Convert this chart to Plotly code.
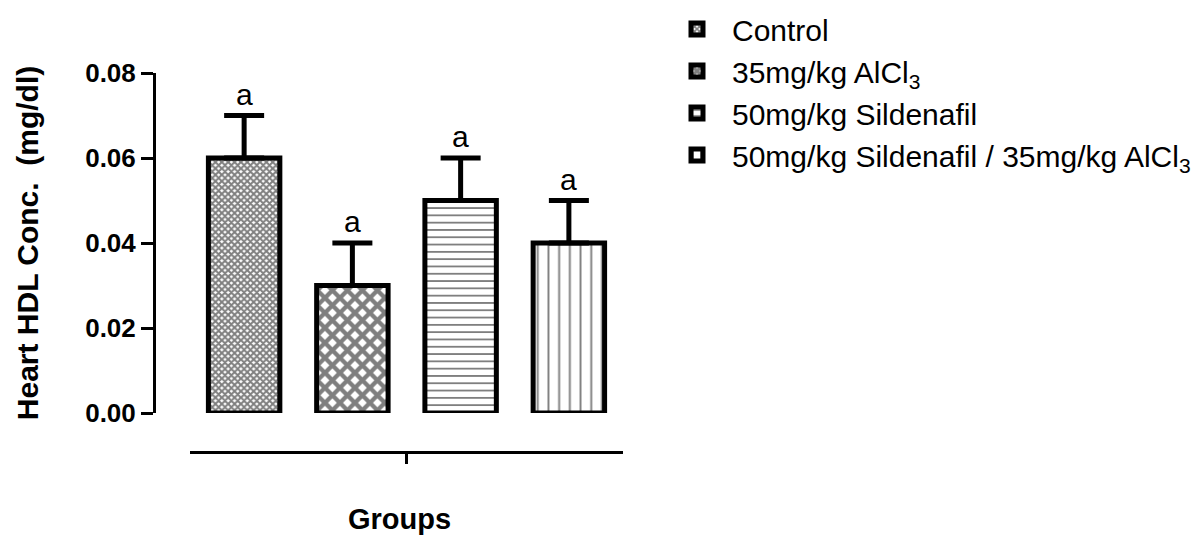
import plotly.graph_objects as go

groups = ["Control", "35mg/kg AlCl<sub>3</sub>", "50mg/kg Sildenafil",
          "50mg/kg Sildenafil / 35mg/kg AlCl<sub>3</sub>"]
means = [0.06, 0.03, 0.05, 0.04]
errors = [0.01, 0.01, 0.01, 0.01]
letters = ["a", "a", "a", "a"]
category = ["Groups"]
x_title = "Groups"
y_title = "Heart HDL Conc.  (mg/dl)"

patterns = [
    dict(shape="x", size=4.5, solidity=0.7),
    dict(shape="x", size=10.6, solidity=0.65),
    dict(shape="-", size=7.3, solidity=0.25),
    dict(shape="|", size=10.7, solidity=0.18),
]

FONT = "Liberation Sans, Arial, sans-serif"
# the page body adds an 8px margin, so the figure is sized to fill the rest
W, H = 1196, 531
ml, mr, mt, mb = 146, 581, 65, 87
PW, PH = W - ml - mr, H - mt - mb

fig = go.Figure()
for name, m, e, p in zip(groups, means, errors, patterns):
    fig.add_trace(go.Bar(
        x=category, y=[m], name=name,
        marker=dict(color="white", line=dict(color="black", width=5),
                    pattern=dict(fgcolor="black", bgcolor="white", **p)),
        error_y=dict(type="data", array=[e], arrayminus=[0], symmetric=False,
                     thickness=5, width=20, color="black"),
    ))

n = len(groups)
for i, (m, e, t) in enumerate(zip(means, errors, letters)):
    fig.add_annotation(x=-0.5 + (i + 0.5) / n, y=m + e, xref="x", yref="y",
                       text=t, showarrow=False, yanchor="bottom", yshift=3,
                       font=dict(family=FONT, size=30, color="black"))

# x-axis title (slightly left of the axis centre, as in the original)
fig.add_annotation(x=(391 - ml) / PW, y=(444 - 511) / PH, xref="paper", yref="paper",
                   text=x_title, showarrow=False, xanchor="center", yanchor="middle",
                   font=dict(family=FONT, size=29, weight="bold", color="black"))

fig.update_layout(
    width=W, height=H,
    margin=dict(l=ml, r=mr, t=mt, b=mb, pad=0, autoexpand=False),
    paper_bgcolor="white", plot_bgcolor="white",
    barmode="group", bargap=0, bargroupgap=0.34,
    font=dict(family=FONT, color="black"),
    xaxis=dict(domain=[(182 - ml) / PW, 1], anchor="free", position=0,
               range=[-0.5, 0.5], showline=True, linecolor="black", linewidth=3,
               ticks="outside", ticklen=10, tickwidth=3, tickcolor="black",
               showticklabels=False, showgrid=False, zeroline=False,
               automargin=False),
    yaxis=dict(domain=[(444 - 405) / PH, 1], anchor="free", position=0,
               range=[0, 0.08], dtick=0.02, tickformat=".2f",
               showline=True, linecolor="black", linewidth=3,
               ticks="outside", ticklen=12, tickwidth=3, tickcolor="black",
               tickfont=dict(family=FONT, size=26, weight="bold"),
               showgrid=False, zeroline=False, automargin=False,
               title=dict(text=y_title, standoff=36,
                          font=dict(family=FONT, size=30, weight="bold"))),
    legend=dict(x=(654 - ml) / PW, y=(444 + 5) / PH,
                xanchor="left", yanchor="top", itemwidth=60,
                font=dict(family=FONT, size=30, color="black"),
                bgcolor="rgba(0,0,0,0)", tracegroupgap=4),
    showlegend=True,
)

fig.write_html("out.html")
